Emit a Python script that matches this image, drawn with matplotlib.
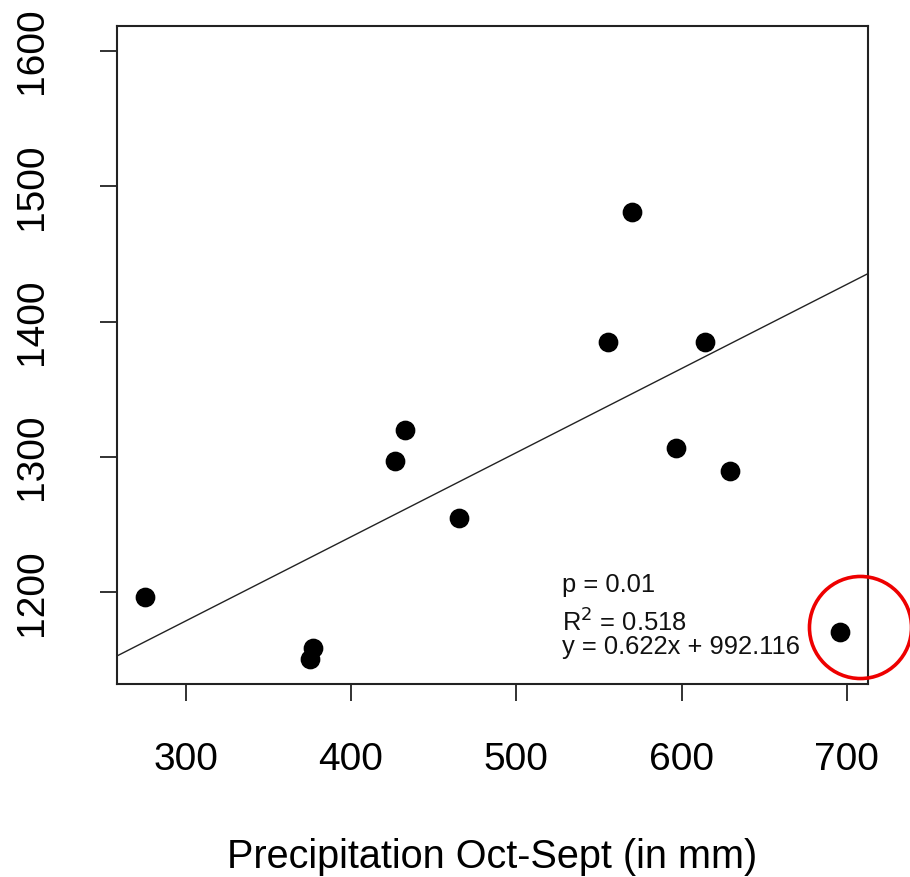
import numpy as np
import matplotlib.pyplot as plt

plt.rcParams['font.family'] = ['Liberation Sans', 'DejaVu Sans']

# Precipitacion anual (mm) y valor medido en cada anio
precip = [275.4, 375.2, 377.2, 426.6, 432.7, 465.5, 555.7, 569.8, 596.4, 614.2, 629.3, 695.8]
valor = [1196.5, 1150.5, 1159.1, 1297.0, 1320.0, 1254.7, 1385.2, 1481.3, 1306.9, 1385.2, 1289.7, 1170.9]

# Recta de regresion y estadisticos
pendiente = 0.622
intercepto = 992.116
p_valor = 0.01
r2 = 0.518

# Punto marcado con el circulo rojo
resaltado = (708, 1174)

x_ticks = [300, 400, 500, 600, 700]
y_ticks = [1200, 1300, 1400, 1500, 1600]
xlim = (258.3, 713.0)
ylim = (1132.2, 1618.5)

fig = plt.figure(figsize=(9.10, 8.77), dpi=100)
ax = fig.add_axes([0.1282, 0.2201, 0.8260, 0.7503])

ax.plot(precip, valor, 'o', color='black', markersize=13.2, zorder=3)

xs = np.array(xlim)
ax.plot(xs, pendiente * xs + intercepto, color='#222222', linewidth=1.0)

ax.plot([resaltado[0]], [resaltado[1]], 'o', markersize=73.5, markerfacecolor='none',
        markeredgecolor='#ee0000', markeredgewidth=2.6, clip_on=False, zorder=4)

ax.text(527.5, 1200.4, f'p = {p_valor}', fontsize=18.4, va='baseline', color='#111111')
ax.text(527.5, 1171.6, f'R$^2$ = {r2}', fontsize=18.4, va='baseline', color='#111111')
ax.text(527.5, 1154.4, f'y = {pendiente}x + {intercepto}', fontsize=18.4, va='baseline', color='#111111')

ax.set_xlim(*xlim)
ax.set_ylim(*ylim)
ax.set_xticks(x_ticks)
ax.set_yticks(y_ticks)
ax.tick_params(axis='both', length=12, width=1.3, color='#222222', labelsize=28)
ax.tick_params(axis='x', pad=30)
ax.tick_params(axis='y', pad=36, labelrotation=90)
for lbl in ax.get_yticklabels():
    lbl.set_va('center')
for s in ax.spines.values():
    s.set_linewidth(1.5)
    s.set_color('#222222')

ax.set_xlabel('Precipitation Oct-Sept (in mm)', fontsize=28.5, labelpad=43)

fig.savefig('out.png', dpi=100)
